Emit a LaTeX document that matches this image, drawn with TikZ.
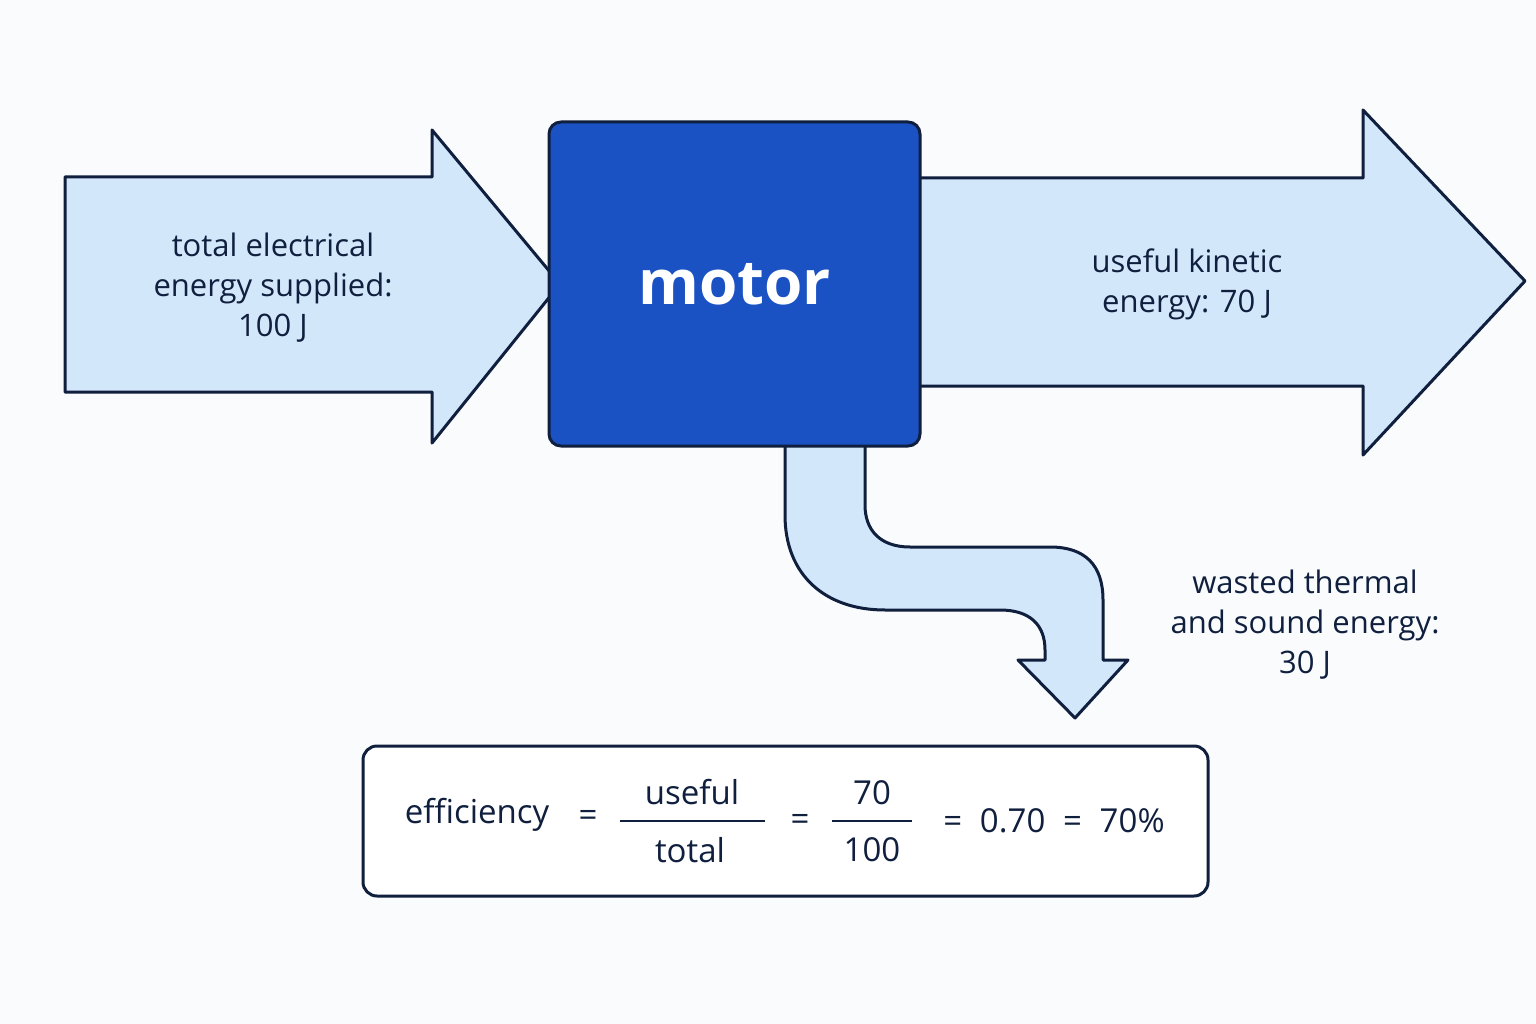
\documentclass[tikz,border=0pt]{standalone}
\usepackage{fontspec}
\setmainfont{Open Sans}
\begin{document}
\begin{tikzpicture}[x=1pt,y=-1pt,
  ln/.style={draw=navy,line width=3pt,line join=round},
  fl/.style={ln,fill=lightb},
  txt/.style={text=navy,font=\fontsize{31}{40}\selectfont,align=center}]
\definecolor{navy}{HTML}{0F1F3D}
\definecolor{lightb}{HTML}{D3E7FB}
\definecolor{motorb}{HTML}{1A52C4}
\definecolor{bg}{HTML}{F9FBFD}
\fill[bg] (0,0) rectangle (1536,1024);
\useasboundingbox (0,0) rectangle (1536,1024);
% left arrow
\draw[fl] (65,177) -- (432,177) -- (432,130) -- (560,284) -- (432,443) -- (432,392) -- (65,392) -- cycle;
% right arrow
\draw[fl] (900,178) -- (1363,178) -- (1363,110) -- (1525,281) -- (1363,455) -- (1363,386) -- (900,386) -- cycle;
% bent pipe
\draw[fl] (785,430) -- (785,515) .. controls (785,575) and (825,610) .. (885,610) -- (1000,610)
  .. controls (1030,610) and (1045,625) .. (1045,650) -- (1045,660) -- (1018,660) -- (1075,718) -- (1128,660)
  -- (1103,660) -- (1103,600) .. controls (1103,565) and (1085,547) .. (1050,547) -- (910,547)
  .. controls (880,547) and (865,530) .. (865,505) -- (865,430);
% motor
\node[ln,fill=motorb,rounded corners=12pt,minimum width=371pt,minimum height=324pt,inner sep=0pt] (motor) at (734.5,284) {};
\node[text=white,font=\fontsize{62}{70}\selectfont\bfseries] at (734.5,284) {motor};
\node[txt] (in) at (273,288) {total electrical\\energy supplied:\\100 J};
\node[txt] (out) at (1187,284) {useful kinetic\\energy: 70 J};
\node[txt] (waste) at (1305,625) {wasted thermal\\and sound energy:\\30 J};
% equation box
\node[ln,fill=white,rounded corners=14pt,minimum width=845pt,minimum height=150pt] (eq) at (785.5,821) {};
\begin{scope}[every node/.style={text=navy,font=\fontsize{33}{40}\selectfont}]
\node (e1) at (477,815) {efficiency};
\node (eqa) at (588,818) {=};
\node (n1) at (692,792) {useful};
\node (d1) at (690,850) {total};
\node (eqb) at (800,822) {=};
\node (n2) at (872,793) {70};
\node (d2) at (872,850) {100};
\node (rest) at (1054,821) {=\; 0.70 \;=\; 70\%};
\end{scope}
\draw[navy,line width=2pt] (620,821) -- (765,821);
\draw[navy,line width=2pt] (832,821) -- (912,821);
\end{tikzpicture}
\end{document}
